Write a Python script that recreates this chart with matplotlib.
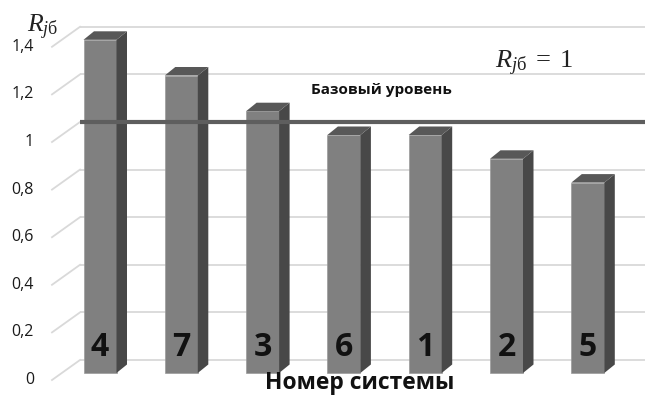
import matplotlib
matplotlib.use("Agg")
import matplotlib.pyplot as plt
import numpy as np

# ---- data ----
systems = ["4", "7", "3", "6", "1", "2", "5"]
values = [1.4, 1.25, 1.1, 1.0, 1.0, 0.9, 0.8]
yticks = [0, 0.2, 0.4, 0.6, 0.8, 1.0, 1.2, 1.4]
ytick_labels = ["0", "0,2", "0,4", "0,6", "0,8", "1", "1,2", "1,4"]
base_level = 1.0
xlabel = "Номер системы"
base_text = "Базовый уровень"

plt.rcParams['mathtext.fontset'] = 'custom'
plt.rcParams['mathtext.rm'] = 'Liberation Serif'
plt.rcParams['mathtext.it'] = 'Liberation Serif:italic'

fig = plt.figure(figsize=(6.45, 3.95), dpi=100)
ax = fig.add_axes([0, 0, 1, 1])
ax.set_axis_off()

PX = 81.3          # pixels per category
PY = 238.0         # pixels per value unit
ax.set_xlim(-100 / PX, 545 / PX)
ax.set_ylim(-22 / PY, 373 / PY)

# 3D geometry
W = 33 / PX                 # bar front width
BDX, BDY = 10.5 / PX, 8.5 / PY   # bar depth offsets
WDY = 13 / PY               # back wall offset
wall_left = -20 / PX        # back wall left edge
front_x = -48 / PX          # left wall front edge
front_dy = -7 / PY

grid_c = "#d9d9d9"
x_right = 545 / PX
for v, lab in zip(yticks, ytick_labels):
    ax.plot([wall_left, x_right], [v + WDY, v + WDY], color=grid_c, lw=1.3, zorder=0,
            solid_capstyle='butt')
    ax.plot([front_x, wall_left], [v + front_dy, v + WDY], color=grid_c, lw=1.3, zorder=0)
    ax.text(-66 / PX, v + front_dy, lab, ha='right', va='center', fontsize=11.5,
            family='Open Sans', color='#1a1a1a')

x = np.arange(len(values))
front_c = "#808080"
side_c = "#484848"
top_c = "#585858"
ax.bar(x, values, width=W, color=front_c, edgecolor='#9a9a9a', linewidth=0.5, zorder=2)
for xi, v in zip(x, values):
    r = xi + W / 2
    l = xi - W / 2
    ax.fill([r, r + BDX, r + BDX, r], [0, BDY, v + BDY, v], color=side_c, zorder=2, lw=0)
    ax.fill([l, l + BDX, r + BDX, r], [v, v + BDY, v + BDY, v], color=top_c, zorder=2, lw=0)

for xi, s in zip(x, systems):
    ax.text(xi, 26 / PY, s, ha='center', va='center', fontsize=23, fontweight='bold',
            family='Open Sans', color='#111111', zorder=4)

# base level line
ax.plot([wall_left, x_right], [base_level + WDY, base_level + WDY], color='#5e5e5e',
        lw=3, zorder=5, solid_capstyle='butt')
ax.text(281.5 / PX, 1.189, base_text, ha='center', va='center', fontsize=11,
        fontweight='bold', family='Open Sans', color='#111111', zorder=5)
ax.text(395 / PX, 1.28, r'$R_{j\mathrm{б}}\;=\;1$', ha='left', va='baseline',
        fontsize=19, color='#222222', zorder=5)

# axis titles
ax.text(-73 / PX, 341 / PY, r'$R_{j\mathrm{б}}$', ha='left', va='baseline',
        fontsize=18.5, color='#222222')
ax.text(260 / PX, -16 / PY, xlabel, ha='center', va='baseline', fontsize=16.5,
        fontweight='bold', family='Open Sans', color='#111111')

fig.savefig("out.png", dpi=100)
